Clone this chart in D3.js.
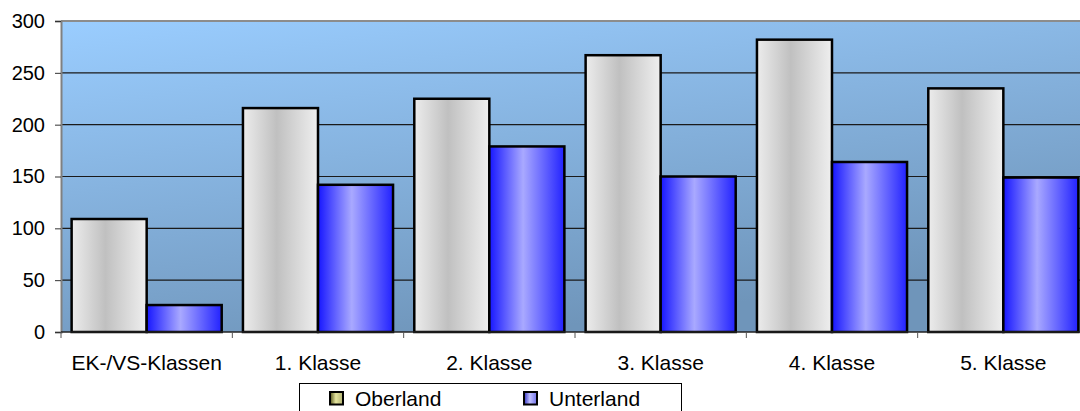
<!DOCTYPE html>
<html>
<head>
<meta charset="utf-8">
<script src="https://cdn.jsdelivr.net/npm/d3@7"></script>
<style>
body { margin: 0; background: #fff; }
text { font-family: "Liberation Sans", Arial, sans-serif; fill: #000; }
</style>
</head>
<body>
<div id="chart"></div>
<script>
var categories = ["EK-/VS-Klassen", "1. Klasse", "2. Klasse", "3. Klasse", "4. Klasse", "5. Klasse"];
var seriesNames = ["Oberland", "Unterland"];
var oberland = [109, 216, 225, 267, 282, 235];
var unterland = [26, 142, 179, 150, 164, 149];
var yTicks = [0, 50, 100, 150, 200, 250, 300];

var svg = d3.select('#chart')
    .append('svg')
    .attr('width', 1080)
    .attr('height', 411);

var margin = {
        top: 21,
        left: 61,
        bottom: 332,
        right: 1089
};

var defs = svg.append("defs");

var bg = defs.append("linearGradient")
    .attr("id", "bgGrad")
    .attr("x1", 0).attr("y1", 0)
    .attr("x2", 0.45).attr("y2", 1);
bg.append("stop").attr("offset", "0%").attr("stop-color", "#9acdff");
bg.append("stop").attr("offset", "100%").attr("stop-color", "#6f95ba");

// horizontal "cylinder" gradients for the bars and legend swatches
var addGrad = function (id, edgeL, mid, edgeR) {
    var gr = defs.append("linearGradient")
        .attr("id", id)
        .attr("x1", 0).attr("y1", 0)
        .attr("x2", 1).attr("y2", 0);
    gr.append("stop").attr("offset", "0%").attr("stop-color", edgeL);
    gr.append("stop").attr("offset", "45%").attr("stop-color", mid);
    gr.append("stop").attr("offset", "100%").attr("stop-color", edgeR);
};
addGrad("gradOber", "#ececec", "#c0c0c0", "#efefef");
addGrad("gradUnter", "#1616ff", "#a9a9ff", "#2222ff");
addGrad("legOber", "#55551c", "#e6e6a0", "#b0b070");
addGrad("legUnter", "#3030c0", "#c0c0ff", "#7070e8");

var x0 = d3.scaleBand()
    .domain(categories)
    .range([margin.left, margin.right])
    .paddingInner(0.124)
    .paddingOuter(0.062);

var x1 = d3.scaleBand()
    .domain(seriesNames)
    .range([0, x0.bandwidth()]);

var y = d3.scaleLinear()
    .domain([0, 300])
    .range([margin.bottom, margin.top]);

// plot area
svg.append("rect")
    .attr("x", margin.left)
    .attr("y", y(300))
    .attr("width", margin.right - margin.left)
    .attr("height", y(0) - y(300))
    .attr("fill", "url(#bgGrad)");

// gridlines
svg.append("g")
    .selectAll("line")
    .data(yTicks.filter(function (d) { return d > 0 && d < 300; }))
    .enter().append("line")
    .attr("x1", margin.left)
    .attr("x2", margin.right)
    .attr("y1", function (d) { return y(d); })
    .attr("y2", function (d) { return y(d); })
    .attr("stroke", "#1a1a1a")
    .attr("stroke-width", 1.2);

// top border
svg.append("line")
    .attr("x1", margin.left)
    .attr("x2", margin.right)
    .attr("y1", y(300))
    .attr("y2", y(300))
    .attr("stroke", "#8c8c8c")
    .attr("stroke-width", 2);

// bars
var rows = categories.map(function (c, i) {
    return { cat: c, values: [oberland[i], unterland[i]] };
});

var groups = svg.append("g")
    .selectAll("g")
    .data(rows)
    .enter().append("g")
    .attr("transform", function (d) { return "translate(" + x0(d.cat) + ",0)"; });

groups.selectAll("rect")
    .data(function (d) {
        return seriesNames.map(function (s, j) { return { name: s, value: d.values[j] }; });
    })
    .enter().append("rect")
    .attr("x", function (d) { return x1(d.name); })
    .attr("y", function (d) { return y(d.value); })
    .attr("width", x1.bandwidth())
    .attr("height", function (d) { return y(0) - y(d.value); })
    .attr("fill", function (d) { return d.name == "Oberland" ? "url(#gradOber)" : "url(#gradUnter)"; })
    .attr("stroke", "#000")
    .attr("stroke-width", 2.5);

// y axis
var yAxis = svg.append("g")
    .attr("transform", "translate(" + margin.left + ",0)")
    .call(d3.axisLeft(y).tickValues(yTicks).tickSize(6).tickPadding(10));
yAxis.select(".domain")
    .attr("stroke", "#808080")
    .attr("stroke-width", 2);
yAxis.selectAll(".tick line")
    .attr("stroke", "#333");
yAxis.selectAll(".tick text")
    .style("font-size", "20px")
    .attr("font-family", null);

// x axis
var xAxis = svg.append("g")
    .attr("transform", "translate(0," + margin.bottom + ")");
xAxis.append("line")
    .attr("x1", margin.left)
    .attr("x2", margin.right)
    .attr("stroke", "#222")
    .attr("stroke-width", 1.5);
xAxis.selectAll(".ctick")
    .data(categories)
    .enter().append("line")
    .attr("class", "ctick")
    .attr("x1", function (d) { return x0(d) - x0.step() * 0.062; })
    .attr("x2", function (d) { return x0(d) - x0.step() * 0.062; })
    .attr("y1", 0)
    .attr("y2", 6)
    .attr("stroke", "#555");
xAxis.selectAll(".clabel")
    .data(categories)
    .enter().append("text")
    .attr("class", "clabel")
    .attr("x", function (d) { return x0(d) + x0.bandwidth() / 2; })
    .attr("y", 38)
    .attr("text-anchor", "middle")
    .style("font-size", "21px")
    .text(function (d) { return d; });

// legend
var legend = svg.append("g");
legend.append("rect")
    .attr("x", 299.5)
    .attr("y", 383.5)
    .attr("width", 382)
    .attr("height", 40)
    .attr("fill", "#fff")
    .attr("stroke", "#000");

var legendX = [330, 524];
seriesNames.forEach(function (s, i) {
    legend.append("rect")
        .attr("x", legendX[i])
        .attr("y", 392)
        .attr("width", 13)
        .attr("height", 12.5)
        .attr("fill", i == 0 ? "url(#legOber)" : "url(#legUnter)")
        .attr("stroke", "#000")
        .attr("stroke-width", 2);
    legend.append("text")
        .attr("x", legendX[i] + 25)
        .attr("y", 406)
        .style("font-size", "21px")
        .text(s);
});
</script>
</body>
</html>
